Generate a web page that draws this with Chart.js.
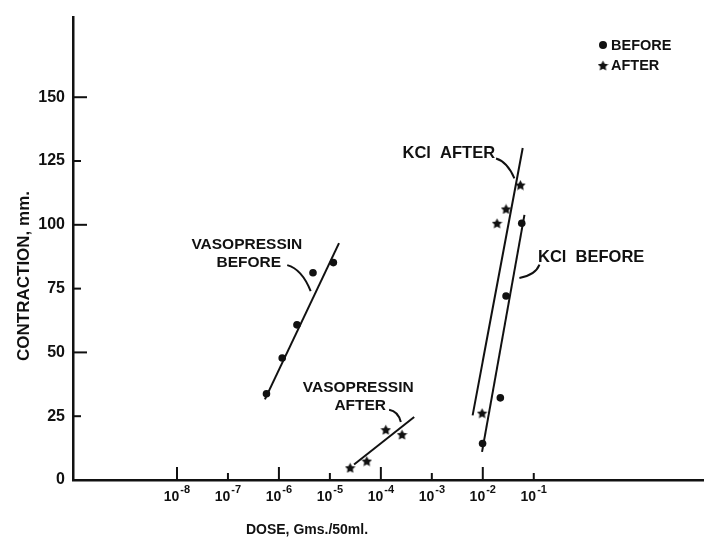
<!DOCTYPE html>
<html>
<head>
<meta charset="utf-8">
<script src="https://cdn.jsdelivr.net/npm/chart.js@4.4.1/dist/chart.umd.min.js"></script>
<style>
 html, body { margin: 0; padding: 0; background: #fff; }
 #wrap { width: 704px; height: 542px; }
</style>
</head>
<body>
<div id="wrap"><canvas id="doseChart" width="704" height="542"></canvas></div>
<script>
// dose (Gms./50ml) and contraction (mm)
var vasoBeforeDose = [5.7e-7, 1.16e-6, 2.26e-6, 4.66e-6, 1.17e-5];
var vasoBeforeContraction = [33.8, 47.8, 60.8, 81.2, 85.2];
var vasoAfterDose = [2.5e-5, 5.3e-5, 1.25e-4, 2.6e-4];
var vasoAfterContraction = [4.8, 7.4, 19.7, 17.8];
var kclBeforeDose = [0.0099, 0.0221, 0.0286, 0.0581];
var kclBeforeContraction = [14.3, 32.2, 72.1, 100.6];
var kclAfterDose = [0.0097, 0.019, 0.0286, 0.0547];
var kclAfterContraction = [26.2, 100.6, 106.2, 115.6];

// fitted lines, two ends each
var vasoBeforeFitDose = [5.31e-7, 1.51e-5];
var vasoBeforeFitContraction = [31.6, 92.8];
var vasoAfterFitDose = [2.98e-5, 4.51e-4];
var vasoAfterFitContraction = [6.1, 24.7];
var kclBeforeFitDose = [9.66e-3, 6.56e-2];
var kclBeforeFitContraction = [11.0, 103.9];
var kclAfterFitDose = [6.31e-3, 6.07e-2];
var kclAfterFitContraction = [25.3, 130.1];

var xTickExponents = [-8, -7, -6, -5, -4, -3, -2, -1];
var yTickValues = [0, 25, 50, 75, 100, 125, 150];

var ink = "#111";
var labelFont = "'Liberation Sans', Arial, sans-serif";

function toPoints(xs, ys) {
 return xs.map(function (x, i) {
  return { x: x, y: ys[i] };
 });
}

function makeStar(size) {
 var c = document.createElement("canvas");
 c.width = size;
 c.height = size;
 var g = c.getContext("2d");
 var R = size / 2, r = R * 0.5;
 g.beginPath();
 for (var i = 0; i < 10; i++) {
  var rad = i % 2 === 0 ? R : r;
  var a = -Math.PI / 2 + (i * Math.PI) / 5;
  g.lineTo(R + rad * Math.cos(a), R + 0.5 + rad * Math.sin(a));
 }
 g.closePath();
 g.fillStyle = ink;
 g.fill();
 return c;
}

var starImg = makeStar(11);

function dots(label, xs, ys) {
 return {
  label: label,
  data: toPoints(xs, ys),
  pointStyle: "circle",
  pointRadius: 3.8,
  pointBackgroundColor: ink,
  pointBorderWidth: 0,
  showLine: false,
 };
}

function stars(label, xs, ys) {
 return {
  label: label,
  data: toPoints(xs, ys),
  pointStyle: starImg,
  pointRadius: 5.5,
  showLine: false,
 };
}

function fitLine(label, xs, ys) {
 return {
  label: label,
  data: toPoints(xs, ys),
  showLine: true,
  borderColor: ink,
  borderWidth: 2,
  pointRadius: 0,
 };
}

// annotations, placed in data coordinates (log10 dose, contraction)
var notes = [
 { lines: ["VASOPRESSIN", "BEFORE"], at: [[-6.63, 92.3], [-6.59, 85.3]], size: 15.5,
  leader: [[-5.837, 84.2], [-5.548, 82.6], [-5.377, 74.0]] },
 { lines: ["VASOPRESSIN", "AFTER"], at: [[-4.444, 36.2], [-4.405, 29.2]], size: 15.5,
  leader: [[-3.838, 27.5], [-3.661, 26.9], [-3.608, 22.7]] },
 { lines: ["KCl  AFTER"], at: [[-2.667, 127.8]], size: 16.5,
  leader: [[-1.74, 126.0], [-1.518, 124.7], [-1.38, 118.2]] },
 { lines: ["KCl  BEFORE"], at: [[0.126, 87.3]], size: 16.5,
  leader: [[-0.888, 84.4], [-0.967, 80.3], [-1.282, 79.2]] },
];

var decorPlugin = {
 id: "decor",
 afterDraw: function (chart) {
  var ctx = chart.ctx;
  var xs = chart.scales.x, ys = chart.scales.y;
  var area = chart.chartArea;
  ctx.save();
  ctx.strokeStyle = ink;
  ctx.fillStyle = ink;
  ctx.lineWidth = 2;

  // inward ticks on y
  yTickValues.forEach(function (v) {
   if (v === 0) return;
   var py = ys.getPixelForValue(v);
   var len = v % 50 === 0 ? 14 : 8;
   ctx.beginPath();
   ctx.moveTo(area.left, py);
   ctx.lineTo(area.left + len, py);
   ctx.stroke();
  });

  // inward ticks and 10^n labels on x
  xTickExponents.forEach(function (e) {
   var px = xs.getPixelForValue(Math.pow(10, e));
   var len = e % 2 === 0 ? 13 : 7;
   ctx.beginPath();
   ctx.moveTo(px, area.bottom);
   ctx.lineTo(px, area.bottom - len);
   ctx.stroke();

   ctx.font = "bold 14px " + labelFont;
   var baseW = ctx.measureText("10").width;
   ctx.font = "bold 11px " + labelFont;
   var supW = ctx.measureText("-" + Math.abs(e)).width;
   var left = px - (baseW + supW + 1) / 2;
   ctx.textBaseline = "middle";
   ctx.textAlign = "left";
   ctx.font = "bold 14px " + labelFont;
   ctx.fillText("10", left, area.bottom + 17);
   ctx.font = "bold 11px " + labelFont;
   ctx.fillText("-" + Math.abs(e), left + baseW + 1, area.bottom + 10);
  });

  // axis titles
  ctx.textAlign = "center";
  ctx.textBaseline = "middle";
  ctx.font = "bold 14px " + labelFont;
  ctx.fillText("DOSE, Gms./50ml.", area.left + 234, area.bottom + 50);
  ctx.save();
  ctx.translate(24, 276);
  ctx.rotate(-Math.PI / 2);
  ctx.font = "bold 17px " + labelFont;
  ctx.fillText("CONTRACTION, mm.", 0, 0);
  ctx.restore();

  // annotations with curved leaders
  notes.forEach(function (n) {
   ctx.font = "bold " + n.size + "px " + labelFont;
   n.lines.forEach(function (t, i) {
    ctx.fillText(t, xs.getPixelForValue(Math.pow(10, n.at[i][0])), ys.getPixelForValue(n.at[i][1]));
   });
   var p = n.leader.map(function (q) {
    return [xs.getPixelForValue(Math.pow(10, q[0])), ys.getPixelForValue(q[1])];
   });
   ctx.beginPath();
   ctx.moveTo(p[0][0], p[0][1]);
   ctx.quadraticCurveTo(p[1][0], p[1][1], p[2][0], p[2][1]);
   ctx.lineWidth = 2;
   ctx.stroke();
  });

  // key, top right
  var kx = area.right - 101;
  ctx.beginPath();
  ctx.arc(kx, 45, 4, 0, Math.PI * 2);
  ctx.fill();
  ctx.drawImage(starImg, kx - 5.5, 60, 11, 11);
  ctx.textAlign = "left";
  ctx.font = "bold 14.5px " + labelFont;
  ctx.fillText("BEFORE", kx + 8, 46);
  ctx.fillText("AFTER", kx + 8, 66);
  ctx.restore();
 },
};

var chartDiv = document.getElementById("doseChart");

new Chart(chartDiv, {
 type: "scatter",
 data: {
  datasets: [
   fitLine("Vasopressin before fit", vasoBeforeFitDose, vasoBeforeFitContraction),
   fitLine("Vasopressin after fit", vasoAfterFitDose, vasoAfterFitContraction),
   fitLine("KCl before fit", kclBeforeFitDose, kclBeforeFitContraction),
   fitLine("KCl after fit", kclAfterFitDose, kclAfterFitContraction),
   dots("Vasopressin before", vasoBeforeDose, vasoBeforeContraction),
   stars("Vasopressin after", vasoAfterDose, vasoAfterContraction),
   dots("KCl before", kclBeforeDose, kclBeforeContraction),
   stars("KCl after", kclAfterDose, kclAfterContraction),
  ],
 },
 options: {
  responsive: false,
  animation: false,
  layout: {
   autoPadding: false,
   padding: { top: 15, right: 0, left: 0, bottom: 0 },
  },
  plugins: {
   legend: { display: false },
   tooltip: { enabled: false },
  },
  scales: {
   x: {
    type: "logarithmic",
    min: Math.pow(10, -10.04),
    max: Math.pow(10, 2.34),
    grid: { display: false, drawTicks: false },
    border: { display: true, color: ink, width: 2.5 },
    ticks: { display: false },
    afterBuildTicks: function (scale) {
     scale.ticks = xTickExponents.map(function (e) {
      return { value: Math.pow(10, e) };
     });
    },
    afterFit: function (scale) {
     scale.height = 62;
    },
   },
   y: {
    min: 0,
    max: 181.2,
    grid: { display: false, drawTicks: false },
    border: { display: true, color: ink, width: 2.5 },
    ticks: {
     color: ink,
     padding: 8,
     font: { family: labelFont, size: 16, weight: "bold" },
     callback: function (v) {
      return String(v);
     },
    },
    afterBuildTicks: function (scale) {
     scale.ticks = yTickValues.map(function (v) {
      return { value: v };
     });
    },
    afterFit: function (scale) {
     scale.width = 73;
    },
   },
  },
 },
 plugins: [decorPlugin],
});
</script>
</body>
</html>
